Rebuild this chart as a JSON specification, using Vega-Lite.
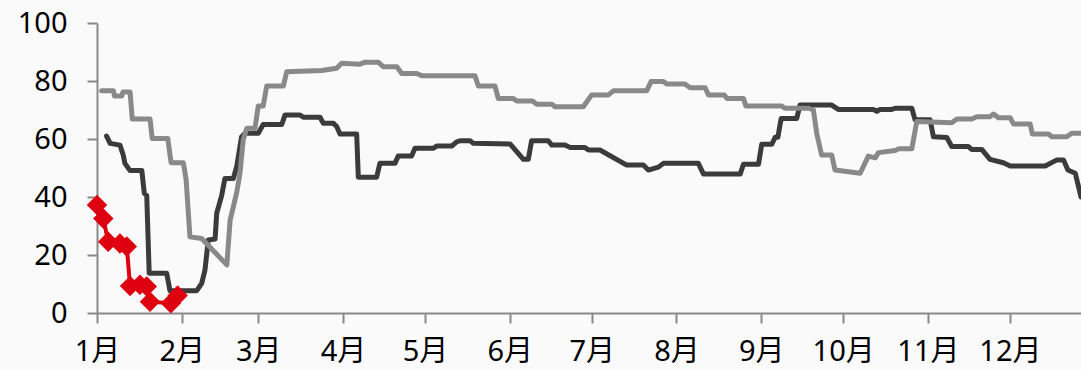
{
  "$schema": "https://vega.github.io/schema/vega-lite/v6.json",
  "width": 984,
  "height": 290,
  "autosize": {"type": "none"},
  "padding": {"left": 97, "top": 23, "right": 0, "bottom": 57},
  "background": "#FAFAFA",
  "config": {
    "view": {"stroke": null},
    "axis": {
      "grid": false,
      "domainColor": "#898989",
      "domainWidth": 2,
      "tickColor": "#898989",
      "tickWidth": 2,
      "tickSize": 10,
      "labelFont": "'Noto Sans', 'Noto Sans CJK SC'",
      "labelFontSize": 29,
      "labelColor": "#000000",
      "title": null
    }
  },
  "datasets": {
    "lines": [
      {"s": "D", "d": 3.5, "v": 61},
      {"s": "D", "d": 4.8, "v": 58.5},
      {"s": "D", "d": 8.4, "v": 57.9},
      {"s": "D", "d": 9.6, "v": 54.5},
      {"s": "D", "d": 10.2, "v": 51.6},
      {"s": "D", "d": 12.1, "v": 49.1},
      {"s": "D", "d": 16.4, "v": 49.1},
      {"s": "D", "d": 17.3, "v": 41.3},
      {"s": "D", "d": 18.2, "v": 40.5},
      {"s": "D", "d": 19.1, "v": 13.7},
      {"s": "D", "d": 25.5, "v": 13.7},
      {"s": "D", "d": 26.7, "v": 7.7},
      {"s": "D", "d": 36.5, "v": 7.7},
      {"s": "D", "d": 38.3, "v": 10.2},
      {"s": "D", "d": 39.5, "v": 14.8},
      {"s": "D", "d": 40.7, "v": 25.2},
      {"s": "D", "d": 43.2, "v": 25.5},
      {"s": "D", "d": 43.8, "v": 34.4},
      {"s": "D", "d": 45.6, "v": 40.5},
      {"s": "D", "d": 46.8, "v": 46.4},
      {"s": "D", "d": 49.9, "v": 46.4},
      {"s": "D", "d": 51.1, "v": 50.5},
      {"s": "D", "d": 52.9, "v": 60.8},
      {"s": "D", "d": 54.2, "v": 62},
      {"s": "D", "d": 59.0, "v": 62},
      {"s": "D", "d": 60.8, "v": 65},
      {"s": "D", "d": 67.6, "v": 65},
      {"s": "D", "d": 68.8, "v": 68.3},
      {"s": "D", "d": 74.3, "v": 68.3},
      {"s": "D", "d": 75.5, "v": 67.5},
      {"s": "D", "d": 81.6, "v": 67.5},
      {"s": "D", "d": 82.8, "v": 65.4},
      {"s": "D", "d": 86.5, "v": 65.4},
      {"s": "D", "d": 87.7, "v": 64.3},
      {"s": "D", "d": 88.9, "v": 61.7},
      {"s": "D", "d": 95.0, "v": 61.7},
      {"s": "D", "d": 95.6, "v": 46.8},
      {"s": "D", "d": 102.3, "v": 46.8},
      {"s": "D", "d": 103.5, "v": 51.6},
      {"s": "D", "d": 109.0, "v": 51.6},
      {"s": "D", "d": 110.2, "v": 54.1},
      {"s": "D", "d": 115.1, "v": 54.1},
      {"s": "D", "d": 116.3, "v": 56.8},
      {"s": "D", "d": 123.1, "v": 56.8},
      {"s": "D", "d": 124.3, "v": 57.6},
      {"s": "D", "d": 129.8, "v": 57.6},
      {"s": "D", "d": 131.6, "v": 59.0},
      {"s": "D", "d": 132.8, "v": 59.4},
      {"s": "D", "d": 136.5, "v": 59.4},
      {"s": "D", "d": 137.7, "v": 58.5},
      {"s": "D", "d": 151.1, "v": 58.3},
      {"s": "D", "d": 156.0, "v": 53},
      {"s": "D", "d": 157.8, "v": 53},
      {"s": "D", "d": 159.0, "v": 59.4},
      {"s": "D", "d": 165.1, "v": 59.4},
      {"s": "D", "d": 166.4, "v": 57.9},
      {"s": "D", "d": 171.2, "v": 57.9},
      {"s": "D", "d": 173.1, "v": 57.1},
      {"s": "D", "d": 178.5, "v": 57.1},
      {"s": "D", "d": 179.8, "v": 56.2},
      {"s": "D", "d": 184.0, "v": 56.2},
      {"s": "D", "d": 193.8, "v": 51},
      {"s": "D", "d": 199.9, "v": 51},
      {"s": "D", "d": 201.7, "v": 49.3},
      {"s": "D", "d": 205.4, "v": 50.3},
      {"s": "D", "d": 207.2, "v": 51.6},
      {"s": "D", "d": 220.0, "v": 51.6},
      {"s": "D", "d": 221.9, "v": 47.9},
      {"s": "D", "d": 235.3, "v": 47.9},
      {"s": "D", "d": 236.5, "v": 51.3},
      {"s": "D", "d": 242.0, "v": 51.3},
      {"s": "D", "d": 243.2, "v": 58.2},
      {"s": "D", "d": 246.9, "v": 58.2},
      {"s": "D", "d": 248.1, "v": 60.6},
      {"s": "D", "d": 249.1, "v": 60.6},
      {"s": "D", "d": 250.3, "v": 67.1},
      {"s": "D", "d": 256.0, "v": 67.1},
      {"s": "D", "d": 257.2, "v": 71.7},
      {"s": "D", "d": 268.8, "v": 71.7},
      {"s": "D", "d": 271.2, "v": 70.2},
      {"s": "D", "d": 284.0, "v": 70.2},
      {"s": "D", "d": 285.3, "v": 69.5},
      {"s": "D", "d": 286.5, "v": 70.2},
      {"s": "D", "d": 290.8, "v": 70.2},
      {"s": "D", "d": 292.0, "v": 70.6},
      {"s": "D", "d": 298.1, "v": 70.6},
      {"s": "D", "d": 299.3, "v": 66.6},
      {"s": "D", "d": 304.8, "v": 66.6},
      {"s": "D", "d": 306.0, "v": 60.8},
      {"s": "D", "d": 310.9, "v": 60.5},
      {"s": "D", "d": 312.7, "v": 57.4},
      {"s": "D", "d": 318.8, "v": 57.4},
      {"s": "D", "d": 320.0, "v": 56.4},
      {"s": "D", "d": 323.7, "v": 56.4},
      {"s": "D", "d": 326.7, "v": 53},
      {"s": "D", "d": 331.6, "v": 51.8},
      {"s": "D", "d": 334.1, "v": 50.7},
      {"s": "D", "d": 346.9, "v": 50.7},
      {"s": "D", "d": 351.2, "v": 52.8},
      {"s": "D", "d": 353.6, "v": 52.8},
      {"s": "D", "d": 355.2, "v": 49.3},
      {"s": "D", "d": 357.9, "v": 48.2},
      {"s": "D", "d": 360.0, "v": 40},
      {"s": "L", "d": 1.7, "v": 76.6},
      {"s": "L", "d": 6.0, "v": 76.6},
      {"s": "L", "d": 6.4, "v": 74.8},
      {"s": "L", "d": 9.0, "v": 74.8},
      {"s": "L", "d": 9.5, "v": 76.2},
      {"s": "L", "d": 12.1, "v": 76.2},
      {"s": "L", "d": 12.9, "v": 66.9},
      {"s": "L", "d": 19.4, "v": 66.9},
      {"s": "L", "d": 20.2, "v": 60.2},
      {"s": "L", "d": 25.9, "v": 60.2},
      {"s": "L", "d": 27.1, "v": 51.8},
      {"s": "L", "d": 31.6, "v": 51.8},
      {"s": "L", "d": 32.6, "v": 46},
      {"s": "L", "d": 34.0, "v": 26.3},
      {"s": "L", "d": 38.3, "v": 25.7},
      {"s": "L", "d": 47.5, "v": 16.6},
      {"s": "L", "d": 48.7, "v": 32},
      {"s": "L", "d": 49.9, "v": 36.7},
      {"s": "L", "d": 51.2, "v": 42},
      {"s": "L", "d": 52.3, "v": 48.2},
      {"s": "L", "d": 53.5, "v": 59.7},
      {"s": "L", "d": 54.8, "v": 63.7},
      {"s": "L", "d": 57.8, "v": 63.7},
      {"s": "L", "d": 59.0, "v": 71.4},
      {"s": "L", "d": 60.8, "v": 71.4},
      {"s": "L", "d": 62.1, "v": 78.3},
      {"s": "L", "d": 68.2, "v": 78.3},
      {"s": "L", "d": 69.4, "v": 83.2},
      {"s": "L", "d": 82.2, "v": 83.6},
      {"s": "L", "d": 87.7, "v": 84.4},
      {"s": "L", "d": 89.5, "v": 86.1},
      {"s": "L", "d": 96.2, "v": 85.8},
      {"s": "L", "d": 98.1, "v": 86.5},
      {"s": "L", "d": 102.9, "v": 86.5},
      {"s": "L", "d": 104.7, "v": 84.9},
      {"s": "L", "d": 109.7, "v": 84.9},
      {"s": "L", "d": 111.5, "v": 82.6},
      {"s": "L", "d": 117.0, "v": 82.6},
      {"s": "L", "d": 118.8, "v": 81.8},
      {"s": "L", "d": 138.3, "v": 81.8},
      {"s": "L", "d": 139.5, "v": 78.3},
      {"s": "L", "d": 145.6, "v": 78.3},
      {"s": "L", "d": 146.8, "v": 74.0},
      {"s": "L", "d": 152.3, "v": 74.0},
      {"s": "L", "d": 153.6, "v": 73.1},
      {"s": "L", "d": 159.3, "v": 73.1},
      {"s": "L", "d": 160.9, "v": 72.0},
      {"s": "L", "d": 166.4, "v": 72.0},
      {"s": "L", "d": 167.6, "v": 71.1},
      {"s": "L", "d": 177.9, "v": 71.1},
      {"s": "L", "d": 181.0, "v": 75.2},
      {"s": "L", "d": 187.1, "v": 75.2},
      {"s": "L", "d": 188.9, "v": 76.6},
      {"s": "L", "d": 201.1, "v": 76.6},
      {"s": "L", "d": 202.7, "v": 79.8},
      {"s": "L", "d": 207.2, "v": 79.8},
      {"s": "L", "d": 208.4, "v": 79.0},
      {"s": "L", "d": 215.1, "v": 79.0},
      {"s": "L", "d": 217.0, "v": 77.7},
      {"s": "L", "d": 222.5, "v": 77.7},
      {"s": "L", "d": 223.7, "v": 75.2},
      {"s": "L", "d": 229.5, "v": 75.2},
      {"s": "L", "d": 230.4, "v": 74.0},
      {"s": "L", "d": 236.5, "v": 74.0},
      {"s": "L", "d": 237.4, "v": 71.4},
      {"s": "L", "d": 250.5, "v": 71.4},
      {"s": "L", "d": 251.7, "v": 70.6},
      {"s": "L", "d": 260.3, "v": 70.6},
      {"s": "L", "d": 262.1, "v": 70.0},
      {"s": "L", "d": 263.3, "v": 62},
      {"s": "L", "d": 265.1, "v": 54.5},
      {"s": "L", "d": 268.8, "v": 54.5},
      {"s": "L", "d": 270.0, "v": 49.3},
      {"s": "L", "d": 279.2, "v": 48.2},
      {"s": "L", "d": 282.2, "v": 54.1},
      {"s": "L", "d": 284.7, "v": 53.5},
      {"s": "L", "d": 285.9, "v": 55.3},
      {"s": "L", "d": 292.0, "v": 56},
      {"s": "L", "d": 293.2, "v": 56.6},
      {"s": "L", "d": 298.1, "v": 56.6},
      {"s": "L", "d": 299.9, "v": 66},
      {"s": "L", "d": 312.7, "v": 65.6},
      {"s": "L", "d": 314.6, "v": 66.9},
      {"s": "L", "d": 320.0, "v": 66.9},
      {"s": "L", "d": 321.9, "v": 67.7},
      {"s": "L", "d": 326.7, "v": 67.7},
      {"s": "L", "d": 328.0, "v": 68.6},
      {"s": "L", "d": 329.8, "v": 67.3},
      {"s": "L", "d": 334.1, "v": 67.3},
      {"s": "L", "d": 335.3, "v": 65.2},
      {"s": "L", "d": 341.4, "v": 65.2},
      {"s": "L", "d": 342.2, "v": 61.7},
      {"s": "L", "d": 348.1, "v": 61.7},
      {"s": "L", "d": 349.3, "v": 60.8},
      {"s": "L", "d": 354.8, "v": 60.8},
      {"s": "L", "d": 356.6, "v": 62},
      {"s": "L", "d": 360.0, "v": 62}
    ],
    "red": [
      {"d": 0, "v": 37.2},
      {"d": 2.3, "v": 32.6},
      {"d": 4.1, "v": 24.6},
      {"d": 8.4, "v": 24},
      {"d": 10.9, "v": 22.9},
      {"d": 12.1, "v": 9.3},
      {"d": 15.7, "v": 9.7},
      {"d": 18.2, "v": 9.1},
      {"d": 19.4, "v": 3.9},
      {"d": 27.0, "v": 3.4},
      {"d": 29.5, "v": 6.0}
    ]
  },
  "encoding": {
    "x": {
      "field": "d",
      "type": "quantitative",
      "scale": {"domain": [0, 360], "nice": false, "zero": false},
      "axis": {
        "values": [0, 31, 59, 90, 120, 151, 181, 212, 243, 273, 304, 334],
        "labelExpr": "(indexof([0,31,59,90,120,151,181,212,243,273,304,334], datum.value) + 1) + '月'",
        "labelPadding": 14,
        "labelFlush": false,
        "labelOverlap": false
      }
    },
    "y": {
      "field": "v",
      "type": "quantitative",
      "scale": {"domain": [0, 100], "nice": false},
      "axis": {"values": [0, 20, 40, 60, 80, 100], "labelPadding": 20}
    }
  },
  "layer": [
    {
      "data": {"name": "lines"},
      "transform": [{"filter": "datum.s === 'D'"}],
      "mark": {"type": "line", "color": "#3B3B3B", "strokeWidth": 5, "strokeJoin": "round", "strokeCap": "round", "clip": true}
    },
    {
      "data": {"name": "lines"},
      "transform": [{"filter": "datum.s === 'L'"}],
      "mark": {"type": "line", "color": "#898989", "strokeWidth": 5, "strokeJoin": "round", "strokeCap": "round", "clip": true}
    },
    {
      "data": {"name": "red"},
      "mark": {"type": "line", "color": "#DE0010", "strokeWidth": 4, "point": {"shape": "diamond", "size": 420, "filled": true, "color": "#DE0010", "opacity": 1}}
    }
  ]
}
